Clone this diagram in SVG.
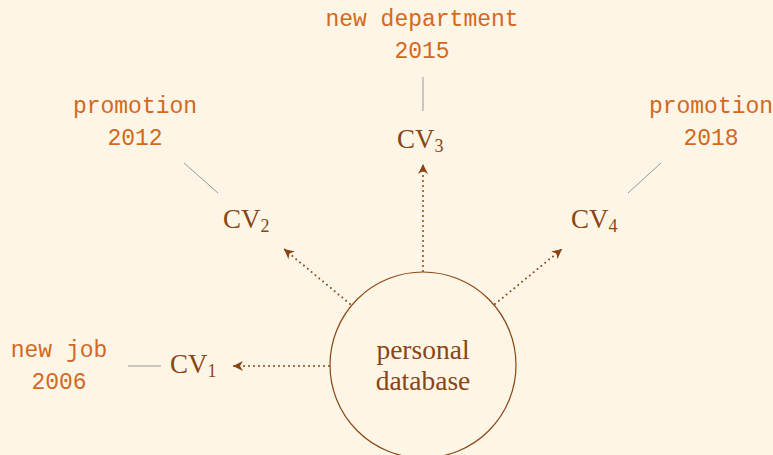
<svg xmlns="http://www.w3.org/2000/svg" width="773" height="455" viewBox="0 0 773 455">
<defs>
<marker id="ah" viewBox="-11 -6 12 12" markerWidth="12" markerHeight="12" refX="0" refY="0" orient="auto" markerUnits="userSpaceOnUse">
<path d="M0,0 L-10,-5 L-7,0 L-10,5 Z" fill="#8b4513"/>
</marker>
</defs>
<style>
.serif{font-family:"Liberation Serif","Times New Roman",serif;fill:#8b4513;}
.cv{font-size:27px;}
.sub{font-size:18px;}
.mono{font-family:"Liberation Mono","Courier New",monospace;fill:#d2691e;font-size:23px;text-anchor:middle;}
.arrow{stroke:#8b4513;stroke-width:2;stroke-dasharray:0 5;stroke-linecap:round;fill:none;}
.tie{stroke:#999;stroke-width:1;fill:none;}
</style>
<rect x="0" y="0" width="773" height="455" fill="#fdf5e6"/>
<g id="db">
<circle cx="423" cy="365" r="93" fill="none" stroke="#8b4513" stroke-width="1.2"/>
<text class="serif" x="423" y="359" font-size="27.5" text-anchor="middle">personal</text>
<text class="serif" x="423" y="390" font-size="27.5" text-anchor="middle">database</text>
</g>
<g id="cv1">
<text class="serif cv" x="170" y="373">CV<tspan class="sub" dy="4">1</tspan></text>
</g>
<g id="cv2">
<text class="serif cv" x="223" y="228">CV<tspan class="sub" dy="4">2</tspan></text>
</g>
<g id="cv3">
<text class="serif cv" x="397" y="148">CV<tspan class="sub" dy="4">3</tspan></text>
</g>
<g id="cv4">
<text class="serif cv" x="571" y="228">CV<tspan class="sub" dy="4">4</tspan></text>
</g>
<g id="l1">
<text class="mono" x="59" y="357">new job</text>
<text class="mono" x="59" y="389">2006</text>
</g>
<g id="l2">
<text class="mono" x="135" y="113">promotion</text>
<text class="mono" x="135" y="145">2012</text>
</g>
<g id="l3">
<text class="mono" x="422" y="26">new department</text>
<text class="mono" x="422" y="58">2015</text>
</g>
<g id="l4">
<text class="mono" x="711" y="113">promotion</text>
<text class="mono" x="711" y="145">2018</text>
</g>
<g id="connectors">
<line class="arrow" x1="329" y1="366" x2="233" y2="366" marker-end="url(#ah)"/>
<line class="arrow" x1="350" y1="304" x2="284" y2="249" marker-end="url(#ah)"/>
<line class="arrow" x1="423" y1="271" x2="423" y2="164" marker-end="url(#ah)"/>
<line class="arrow" x1="495" y1="304" x2="562" y2="249" marker-end="url(#ah)"/>
<line class="tie" x1="128" y1="366" x2="161" y2="366"/>
<line class="tie" x1="184" y1="163" x2="218" y2="193"/>
<line class="tie" x1="423" y1="77" x2="423" y2="111"/>
<line class="tie" x1="661" y1="163" x2="628" y2="193"/>
</g>
</svg>
